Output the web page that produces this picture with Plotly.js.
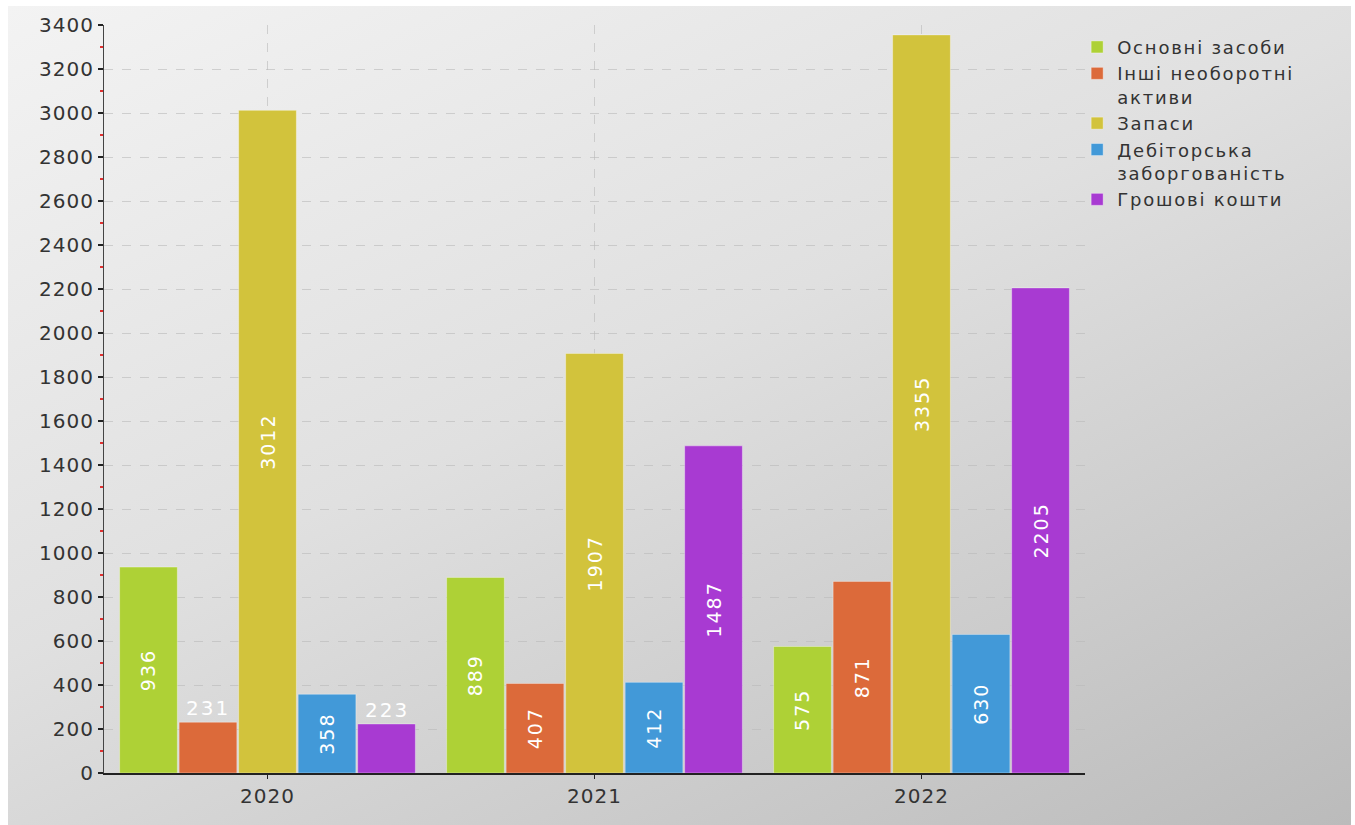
<!DOCTYPE html>
<html>
<head>
<meta charset="utf-8">
<script src="https://cdn.plot.ly/plotly-3.0.1.min.js"></script>
<style>
  html, body { margin: 0; padding: 0; background: #ffffff; }
  #bg { position: absolute; left: 8px; top: 6px; width: 1343px; height: 819px;
        background: linear-gradient(155deg, #f3f3f3 0%, #e0e0e0 45%, #bbbbbb 100%); }
  #chart { position: absolute; left: 0; top: 0; width: 1355px; height: 825px; }
  #chart .legendtext { letter-spacing: 1.8px; }
  #chart .legend .scrollbox { clip-path: none !important; }
  #chart .xtick text, #chart .ytick text { letter-spacing: 1px; }
  #chart .bartext, #chart .annotation-text { letter-spacing: 2px; }
</style>
</head>
<body>
<div id="bg"></div>
<div id="chart"></div>
<script>
const years = ['2020', '2021', '2022'];
const seriesNames = ['Основні засоби', 'Інші необоротні<br>активи', 'Запаси', 'Дебіторська<br>заборгованість', 'Грошові кошти'];
const osnovni = [936, 889, 575];
const inshi = [231, 407, 871];
const zapasy = [3012, 1907, 3355];
const debitorska = [358, 412, 630];
const groshovi = [223, 1487, 2205];
const yTicks = [0, 200, 400, 600, 800, 1000, 1200, 1400, 1600, 1800, 2000, 2200, 2400, 2600, 2800, 3000, 3200, 3400];

const seriesValues = [osnovni, inshi, zapasy, debitorska, groshovi];
const colors = ['#aed136', '#dc6a3a', '#d2c33c', '#4299d8', '#a83ad2'];
const bargap = 0.09;
const nSeries = seriesValues.length;
const barW = (1 - bargap) / nSeries;
const smallLimit = 300;

const traces = seriesValues.map((vals, k) => ({
  type: 'bar',
  name: seriesNames[k],
  x: years,
  y: vals,
  text: vals.map(v => v < smallLimit ? '' : String(v)),
  textposition: 'inside',
  insidetextanchor: 'middle',
  textangle: -90,
  textfont: { color: '#ffffff', size: 19, family: 'DejaVu Sans' },
  marker: { color: colors[k], line: { color: 'rgba(255,255,255,0.35)', width: 1 } },
  hoverinfo: 'x+y+name'
}));

const annotations = [];
seriesValues.forEach((vals, k) => {
  vals.forEach((v, i) => {
    if (v < smallLimit) {
      annotations.push({
        x: i + (k - (nSeries - 1) / 2) * barW,
        y: v,
        xref: 'x', yref: 'y',
        text: String(v),
        showarrow: false,
        yanchor: 'bottom',
        yshift: 0,
        font: { color: '#ffffff', size: 20, family: 'DejaVu Sans' }
      });
    }
  });
});

const layout = {
  width: 1355, height: 825,
  paper_bgcolor: 'rgba(0,0,0,0)',
  plot_bgcolor: 'rgba(0,0,0,0)',
  margin: { l: 104, r: 270, t: 25, b: 52 },
  barmode: 'group',
  bargap: bargap,
  bargroupgap: 0.03,
  font: { family: 'DejaVu Sans', color: '#333333' },
  xaxis: {
    type: 'category',
    range: [-0.5, 2.5],
    showline: true, linecolor: '#222222', linewidth: 2,
    ticks: 'outside', ticklen: 4, tickcolor: '#222222',
    tickfont: { size: 20, color: '#333333' },
    showgrid: true, gridcolor: 'rgba(185,185,185,0.6)', griddash: 'dash', gridwidth: 1,
    zeroline: false
  },
  yaxis: {
    range: [0, 3400],
    tickvals: yTicks,
    ticktext: yTicks.map(String),
    showline: true, linecolor: '#444444', linewidth: 1,
    ticks: 'outside', ticklen: 5, tickcolor: '#222222', tickwidth: 2,
    tickfont: { size: 20, color: '#333333' },
    showgrid: true, gridcolor: 'rgba(185,185,185,0.6)', griddash: 'dash', gridwidth: 1,
    zeroline: false,
    minor: { dtick: 100, ticks: 'outside', ticklen: 3, tickcolor: '#e03030', showgrid: false }
  },
  legend: {
    x: 0.992, xanchor: 'left', y: 0.995, yanchor: 'top',
    font: { size: 18, color: '#333333', family: 'DejaVu Sans' },
    itemwidth: 30, tracegroupgap: 0,
    bgcolor: 'rgba(0,0,0,0)', valign: 'top'
  },
  annotations: annotations,
  showlegend: true
};

Plotly.newPlot('chart', traces, layout, { displayModeBar: false, staticPlot: true });
</script>
</body>
</html>
